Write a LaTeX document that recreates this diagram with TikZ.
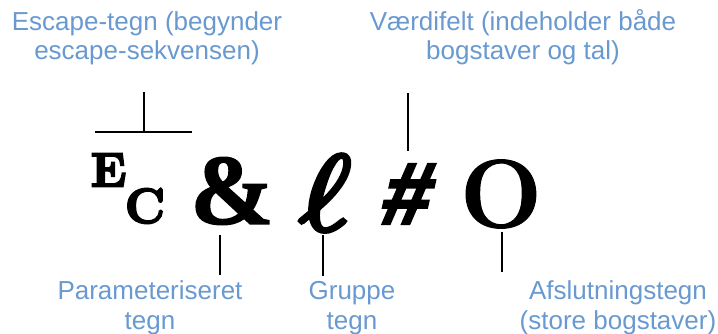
\documentclass[tikz,border=0pt]{standalone}
\usepackage{fontspec}
\newfontfamily\labfont{Liberation Sans}
\newfontfamily\serfont{Liberation Serif}
\definecolor{labblue}{RGB}{104,153,208}
\newcommand{\heavytext}[2]{\special{pdf:literal 2 Tr #1 w}#2\special{pdf:literal 0 Tr}}
\tikzset{
  lbl/.style={text=labblue, font=\labfont\fontsize{26}{29.5}\selectfont, align=center, inner sep=0pt, anchor=base},
  glyph/.style={inner sep=0pt, anchor=center},
  lead/.style={line width=2pt, black}
}
\begin{document}
\begin{tikzpicture}[x=1pt,y=-1pt]
\useasboundingbox (0,0) rectangle (718,334);
% labels (anchor base = baseline of last line)
\node[lbl] (esc) at (147,60) {Escape-tegn (begynder\\escape-sekvensen)};
\node[lbl] (vaer) at (523,60) {Værdifelt (indeholder både\\bogstaver og tal)};
\node[lbl] (par) at (150,329) {Parameteriseret\\tegn};
\node[lbl] (grp) at (352,329) {Gruppe\\tegn};
\node[lbl] (afs) at (618,329) {Afslutningstegn\\(store bogstaver)};
% glyphs
\node[glyph] (E) at (108.5,170) {\fontsize{48}{48}\selectfont\bfseries\heavytext{2.2}{E}};
\node[glyph] (C) at (145,206) {\fontsize{49}{49}\selectfont\bfseries\heavytext{2.2}{C}};
\node[glyph] (amp) at (232,191) {\serfont\fontsize{100}{100}\selectfont\bfseries\heavytext{1.5}{\&}};
\node[glyph] (ell) at (325,193) {\scalebox{12.5}[10.8]{\heavytext{0.4}{$\ell$}}};
\node[glyph, xslant=0.22] (hash) at (409,194) {\labfont\fontsize{87}{87}\selectfont\bfseries\heavytext{3}{\#}};
\node[glyph] (O) at (501,194) {\fontsize{97}{97}\selectfont\bfseries\heavytext{1}{O}};
% leader coordinates
\coordinate (escT) at (144,92);
\coordinate (escM) at (144,132);
\coordinate (escL) at (95,132);
\coordinate (escR) at (192,132);
\coordinate (vaerT) at (408,93);
\coordinate (vaerB) at (408,151);
\coordinate (parT) at (220,235);
\coordinate (parB) at (220,275);
\coordinate (grpT) at (323,235);
\coordinate (grpB) at (323,276);
\coordinate (afsT) at (502,232);
\coordinate (afsB) at (502,272);
\draw[lead] (escT) -- (escM);
\draw[lead] (escL) -- (escR);
\draw[lead] (vaerT) -- (vaerB);
\draw[lead] (parT) -- (parB);
\draw[lead] (grpT) -- (grpB);
\draw[lead] (afsT) -- (afsB);
\end{tikzpicture}
\end{document}
